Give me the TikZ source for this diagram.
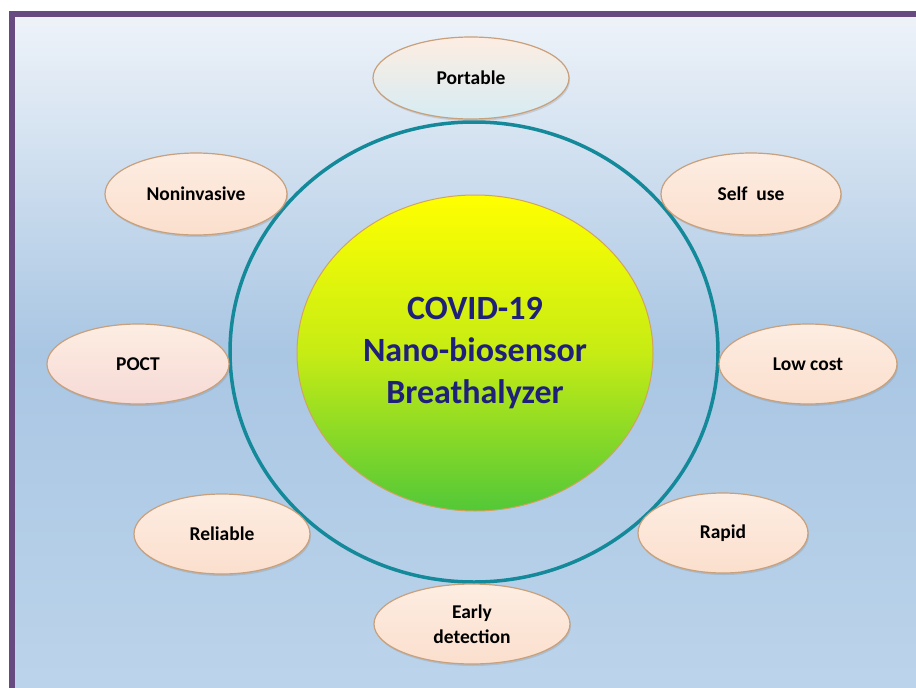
\documentclass[tikz,border=0pt]{standalone}
\usepackage{fontspec}
\setmainfont{Carlito}
\usetikzlibrary{shadows,shapes.geometric}
\definecolor{frame}{HTML}{654B7F}
\definecolor{bgtop}{HTML}{EEF3F9}
\definecolor{bgmid}{HTML}{A9C6E3}
\definecolor{bgbot}{HTML}{BCD4EB}
\definecolor{ring}{HTML}{14899A}
\definecolor{peachA}{HTML}{FDEDE2}
\definecolor{peachB}{HTML}{FBDFCD}
\definecolor{peachline}{HTML}{C8A07C}
\definecolor{navy}{HTML}{1E2079}
\definecolor{hubtop}{HTML}{FFFF00}
\definecolor{hubmid}{HTML}{C6EC14}
\definecolor{hubbot}{HTML}{52C838}
\definecolor{hubline}{HTML}{D2A35E}
\tikzset{
  x=1pt,y=-1pt,
  feature/.style={ellipse, draw=peachline, line width=1.2pt, top color=peachA, bottom color=peachB,
    minimum width=180pt, minimum height=80pt, inner sep=0pt,
    font=\fontsize{19.5}{25}\selectfont\bfseries, text=black, align=center,
    drop shadow={shadow xshift=1pt, shadow yshift=-2pt, opacity=0.25}},
  hub/.style={ellipse, draw=hubline, line width=1pt, inner sep=0pt,
    minimum width=356pt, minimum height=316pt,
    top color=hubtop, bottom color=hubbot, middle color=hubmid,
    font=\fontsize{34}{42}\selectfont\bfseries, text=navy, align=center},
}
\begin{document}
\begin{tikzpicture}
\useasboundingbox (0,0) rectangle (916,688);
\fill[white] (0,0) rectangle (916,688);
\shade[top color=bgtop, bottom color=bgbot, middle color=bgmid, shading angle=0] (12,14) rectangle (916,688);
\fill[frame] (9,11) rectangle (916,17);
\fill[frame] (9,11) rectangle (15,688);
% ring
\node[ellipse, draw=ring, line width=3.5pt, minimum width=488pt, minimum height=460pt, inner sep=0pt] (ring) at (474,352) {};
% hub
\node[hub] (hub) at (475,353) {COVID-19\\Nano-biosensor\\Breathalyzer};
% features
\node[feature, minimum width=196pt, minimum height=82pt, top color=peachA, bottom color={rgb,255:red,214;green,236;blue,243}] (portable) at (471,78) {Portable};
\node[feature, minimum width=182pt, minimum height=82pt] (noninv) at (196,194) {Noninvasive};
\node[feature, minimum width=180pt, minimum height=82pt] (selfuse) at (751,194) {Self\ \ use};
\node[feature, minimum width=182pt, minimum height=80pt, bottom color={rgb,255:red,246;green,218;blue,214}] (poct) at (138,364) {POCT};
\node[feature, minimum width=178pt, minimum height=80pt] (lowcost) at (808,364) {Low cost};
\node[feature, minimum width=176pt, minimum height=80pt] (reliable) at (222,534) {Reliable};
\node[feature, minimum width=170pt, minimum height=80pt] (rapid) at (723,533) {Rapid};
\node[feature, minimum width=196pt, minimum height=80pt] (early) at (472,624) {Early\\detection};
\end{tikzpicture}
\end{document}
